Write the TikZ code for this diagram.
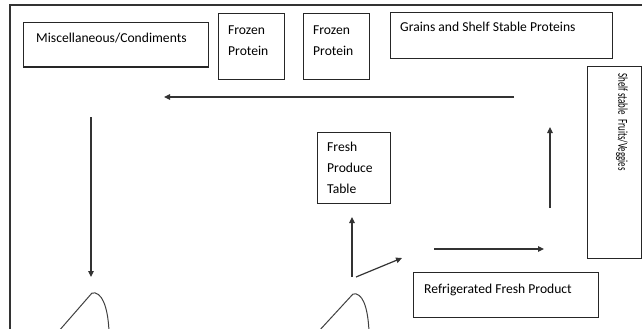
\documentclass[tikz,border=0pt]{standalone}
\usepackage{fontspec}
\setmainfont{Carlito}
\usetikzlibrary{arrows.meta}
\begin{document}
\begin{tikzpicture}[x=1pt,y=-1pt,
  box/.style={draw=black!85,line width=1.1pt,inner sep=0pt,anchor=north west},
  txt/.style={inner sep=0pt,anchor=base west,font=\fontsize{13.6}{21}\selectfont,align=left,text=black},
  mtxt/.style={txt,anchor=north west},
  arr/.style={line width=1.2pt,draw=black!80,-{Triangle[length=6pt,width=5.5pt]}},
  curve/.style={line width=1pt,draw=black!75}]
\useasboundingbox (0,0) rectangle (642,329);
\clip (0,0) rectangle (642,329);
% outer frame
\draw[line width=1.2pt,draw=black!80] (10,340) -- (10,5) -- (660,5);
% boxes
\node[box,minimum width=185pt,minimum height=44.5pt] (misc) at (23,22) {};
\node[txt] at (36,42) {Miscellaneous/Condiments};
\node[box,minimum width=65.5pt,minimum height=66pt] (fp1) at (218,13) {};
\node[mtxt] at (228,25.2) {Frozen\\Protein};
\node[box,minimum width=66pt,minimum height=66pt] (fp2) at (303,13) {};
\node[mtxt] at (313,25.2) {Frozen\\Protein};
\node[box,minimum width=222pt,minimum height=46pt] (grains) at (390,12) {};
\node[txt] at (400,32) {Grains and Shelf Stable Proteins};
\node[box,minimum width=54pt,minimum height=192pt] (shelf) at (587,66) {};
\node[txt,anchor=west,rotate=-90] at (622,73) {\scalebox{0.66}[1]{Shelf stable \ Fruits/Veggies}};
\node[box,minimum width=73pt,minimum height=71pt] (fresh) at (317,132) {};
\node[mtxt] at (327,142.3) {Fresh\\Produce\\Table};
\node[box,minimum width=185pt,minimum height=45pt] (refr) at (413,272) {};
\node[txt] at (424,293) {Refrigerated Fresh Product};
% arrow end points
\coordinate (a1s) at (514,97);   \coordinate (a1e) at (164,97);
\coordinate (a2s) at (91,117);   \coordinate (a2e) at (91,277);
\coordinate (a3s) at (550,208);  \coordinate (a3e) at (550,127);
\coordinate (a4s) at (434,249);  \coordinate (a4e) at (544,249);
\coordinate (a5s) at (352,277);  \coordinate (a5e) at (352,217);
\coordinate (a6s) at (356,277);  \coordinate (a6e) at (402,258);
\draw[arr] (a1s) -- (a1e);
\draw[arr] (a2s) -- (a2e);
\draw[arr] (a3s) -- (a3e);
\draw[arr] (a4s) -- (a4e);
\draw[arr] (a5s) -- (a5e);
\draw[arr] (a6s) -- (a6e);
% arch shapes at bottom
\coordinate (p1) at (92,293);
\coordinate (p2) at (353,294);
\draw[curve] (58,332) -- (p1) .. controls (101,291) and (108,305) .. (109,332);
\draw[curve] (318,332) -- (p2) .. controls (362,292) and (368,306) .. (369,332);
\end{tikzpicture}
\end{document}
